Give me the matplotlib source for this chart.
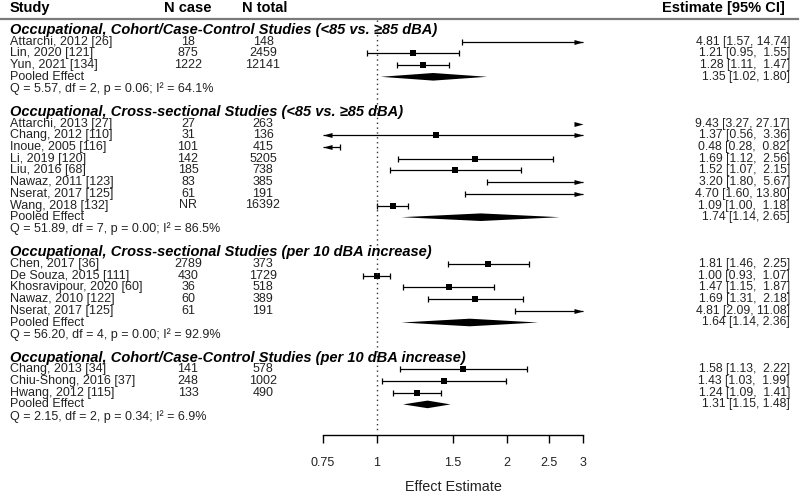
import matplotlib
matplotlib.use("Agg")
import matplotlib.pyplot as plt
from matplotlib.path import Path
import numpy as np

plt.rcParams['font.family'] = ['Liberation Sans', 'DejaVu Sans']

# ---------------- data ----------------
group_titles = [
    "Occupational, Cohort/Case-Control Studies (<85 vs. \u226585 dBA)",
    "Occupational, Cross-sectional Studies (<85 vs. \u226585 dBA)",
    "Occupational, Cross-sectional Studies (per 10 dBA increase)",
    "Occupational, Cohort/Case-Control Studies (per 10 dBA increase)",
]
g1_study = ["Attarchi, 2012 [26]", "Lin, 2020 [121]", "Yun, 2021 [134]"]
g1_ncase = ["18", "875", "1222"]
g1_ntot = ["148", "2459", "12141"]
g1_est = [4.81, 1.21, 1.28]
g1_lb = [1.57, 0.95, 1.11]
g1_ub = [14.74, 1.55, 1.47]

g2_study = ["Attarchi, 2013 [27]", "Chang, 2012 [110]", "Inoue, 2005 [116]", "Li, 2019 [120]",
            "Liu, 2016 [68]", "Nawaz, 2011 [123]", "Nserat, 2017 [125]", "Wang, 2018 [132]"]
g2_ncase = ["27", "31", "101", "142", "185", "83", "61", "NR"]
g2_ntot = ["263", "136", "415", "5205", "738", "385", "191", "16392"]
g2_est = [9.43, 1.37, 0.48, 1.69, 1.52, 3.20, 4.70, 1.09]
g2_lb = [3.27, 0.56, 0.28, 1.12, 1.07, 1.80, 1.60, 1.00]
g2_ub = [27.17, 3.36, 0.82, 2.56, 2.15, 5.67, 13.80, 1.18]

g3_study = ["Chen, 2017 [36]", "De Souza, 2015 [111]", "Khosravipour, 2020 [60]",
            "Nawaz, 2010 [122]", "Nserat, 2017 [125]"]
g3_ncase = ["2789", "430", "36", "60", "61"]
g3_ntot = ["373", "1729", "518", "389", "191"]
g3_est = [1.81, 1.00, 1.47, 1.69, 4.81]
g3_lb = [1.46, 0.93, 1.15, 1.31, 2.09]
g3_ub = [2.25, 1.07, 1.87, 2.18, 11.08]

g4_study = ["Chang, 2013 [34]", "Chiu-Shong, 2016 [37]", "Hwang, 2012 [115]"]
g4_ncase = ["141", "248", "133"]
g4_ntot = ["578", "1002", "490"]
g4_est = [1.58, 1.43, 1.24]
g4_lb = [1.13, 1.03, 1.09]
g4_ub = [2.22, 1.99, 1.41]

pooled_est = [1.35, 1.74, 1.64, 1.31]
pooled_lb = [1.02, 1.14, 1.14, 1.15]
pooled_ub = [1.80, 2.65, 2.36, 1.48]
het_text = [
    "Q = 5.57, df = 2, p = 0.06; I\u00b2 = 64.1%",
    "Q = 51.89, df = 7, p = 0.00; I\u00b2 = 86.5%",
    "Q = 56.20, df = 4, p = 0.00; I\u00b2 = 92.9%",
    "Q = 2.15, df = 2, p = 0.34; I\u00b2 = 6.9%",
]
xticks = [0.75, 1, 1.5, 2, 2.5, 3]
xtick_labels = ["0.75", "1", "1.5", "2", "2.5", "3"]

groups = [
    (g1_study, g1_ncase, g1_ntot, g1_est, g1_lb, g1_ub),
    (g2_study, g2_ncase, g2_ntot, g2_est, g2_lb, g2_ub),
    (g3_study, g3_ncase, g3_ntot, g3_est, g3_lb, g3_ub),
    (g4_study, g4_ncase, g4_ntot, g4_est, g4_lb, g4_ub),
]

# ---------------- layout ----------------
W, H = 800, 495
TOP = 30.0
PITCH = 11.7
AX_BOTTOM = 435.0
XMIN, XMAX = 0.75, 3.0
FS = 9.0
FS_EST = 8.7
FS_HEAD = 10.5
FS_TITLE = 10.5

fig = plt.figure(figsize=(W / 100, H / 100), dpi=100)
axt = fig.add_axes([0, 0, 1, 1])
axt.set_xlim(0, W)
axt.set_ylim(H, 0)
axt.axis('off')

left_px, right_px = 323, 583
axf = fig.add_axes([left_px / W, (H - AX_BOTTOM) / H, (right_px - left_px) / W, AX_BOTTOM / H])
axf.set_xscale('log')
axf.set_xlim(XMIN, XMAX)
axf.set_ylim(AX_BOTTOM, 0)
axf.patch.set_visible(False)
for s in ['top', 'left', 'right']:
    axf.spines[s].set_visible(False)
axf.spines['bottom'].set_linewidth(1.0)
axf.set_yticks([])
axf.set_xticks(xticks)
axf.set_xticklabels(xtick_labels, fontsize=FS)
axf.xaxis.set_minor_locator(matplotlib.ticker.NullLocator())
axf.tick_params(axis='x', direction='out', length=5.5, width=1.0, pad=10, labelsize=FS,
                labelcolor='#222222')
axf.set_xlabel("Effect Estimate", fontsize=10.4, labelpad=8, color='#222222')

# header
hy = 8
axt.text(10, hy, "Study", fontsize=FS_HEAD, fontweight='bold', va='center', ha='left')
axt.text(188, hy, "N case", fontsize=FS_HEAD, fontweight='bold', va='center', ha='center')
axt.text(265, hy, "N total", fontsize=FS_HEAD, fontweight='bold', va='center', ha='center')
axt.text(785, hy, "Estimate [95% CI]", fontsize=FS_HEAD, fontweight='bold', va='center', ha='right')
axt.plot([0, 798], [18.5, 18.5], color='#7a7a7a', lw=1.6)

# custom arrow markers with tip at origin
right_arrow = Path([(0, 0), (-2, 0.55), (-2, -0.55), (0, 0)],
                   [Path.MOVETO, Path.LINETO, Path.LINETO, Path.CLOSEPOLY])
left_arrow = Path([(0, 0), (2, 0.55), (2, -0.55), (0, 0)],
                  [Path.MOVETO, Path.LINETO, Path.LINETO, Path.CLOSEPOLY])

row = 0
for gi, (study, ncase, ntot, est, lb, ub) in enumerate(groups):
    y = TOP + row * PITCH
    axt.text(10, y, group_titles[gi], fontsize=FS_TITLE, fontweight='bold', fontstyle='italic',
             va='center', ha='left')
    row += 1
    for i in range(len(study)):
        y = TOP + row * PITCH
        axt.text(10, y, study[i], fontsize=FS, va='center', ha='left', color='#222222')
        axt.text(188, y, ncase[i], fontsize=FS, va='center', ha='center', color='#222222')
        axt.text(263, y, ntot[i], fontsize=FS, va='center', ha='center', color='#222222')
        axt.text(790, y, f"{est[i]:.2f} [{lb[i]:.2f}, {ub[i]:5.2f}]",
                 fontsize=FS_EST, va='center', ha='right', color='#222222')
        lo = max(lb[i], XMIN)
        hi = min(ub[i], XMAX)
        if lo < hi:
            axf.plot([lo, hi], [y, y], color='black', lw=0.9, clip_on=False, solid_capstyle='butt')
        if XMIN <= lb[i] <= XMAX:
            axf.plot([lb[i]], [y], marker='|', ms=5, mew=0.9, color='black', clip_on=False)
        if XMIN <= ub[i] <= XMAX:
            axf.plot([ub[i]], [y], marker='|', ms=5, mew=0.9, color='black', clip_on=False)
        if lb[i] < XMIN:
            axf.plot([XMIN], [y], marker=left_arrow, ms=13, color='black', mew=0, clip_on=False)
        if ub[i] > XMAX:
            axf.plot([XMAX], [y], marker=right_arrow, ms=13, color='black', mew=0, clip_on=False)
        if XMIN <= est[i] <= XMAX:
            axf.plot([est[i]], [y], marker='s', ms=4.2, color='black', mew=0, clip_on=False)
        row += 1
    # pooled
    y = TOP + row * PITCH
    axt.text(10, y, "Pooled Effect", fontsize=FS, va='center', ha='left', color='#222222')
    axt.text(790, y, f"{pooled_est[gi]:.2f} [{pooled_lb[gi]:.2f}, {pooled_ub[gi]:.2f}]",
             fontsize=FS_EST, va='center', ha='right', color='#222222')
    dh = 3.8
    axf.fill([pooled_lb[gi], pooled_est[gi], pooled_ub[gi], pooled_est[gi]],
             [y, y - dh, y, y + dh], color='black', lw=0, clip_on=False)
    row += 1
    y = TOP + row * PITCH
    axt.text(10, y, het_text[gi], fontsize=FS, va='center', ha='left', color='#222222')
    row += 2

axf.plot([1, 1], [20, 432], color='#333333', lw=1.0, ls=(0, (1, 2.5)), clip_on=False)

fig.savefig("out.png", dpi=100)
